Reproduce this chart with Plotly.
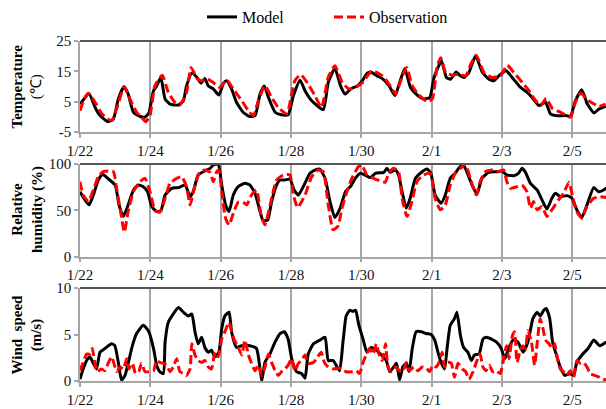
import plotly.graph_objects as go

# ---------------- data (day offset from 1/22) ----------------
date_ticks = [0, 2, 4, 6, 8, 10, 12, 14]
date_labels = ["1/22", "1/24", "1/26", "1/28", "1/30", "2/1", "2/3", "2/5"]

temp_model_day = [
    0, 0.26, 0.43, 0.57, 0.8, 0.95,
    1.09, 1.25, 1.37, 1.52, 1.71, 1.85, 1.96,
    2.09, 2.18, 2.30, 2.42, 2.56, 2.80, 2.94,
    3.03, 3.18, 3.33, 3.44, 3.55, 3.65, 3.79, 3.95,
    4.08, 4.17, 4.31, 4.45, 4.64, 4.83, 4.98,
    5.12, 5.24, 5.36, 5.55, 5.73, 5.92,
    6.07, 6.26, 6.40, 6.59, 6.92,
    7.06, 7.25, 7.41, 7.54, 7.70, 7.89,
    8.03, 8.17, 8.27, 8.45, 8.60, 8.79, 8.96,
    9.12, 9.24, 9.40, 9.59, 9.78, 9.95,
    10.07, 10.28, 10.42, 10.54, 10.70, 10.80, 10.92,
    11.06, 11.25, 11.44, 11.63, 11.77, 11.91,
    12.12, 12.29, 12.53, 12.72, 12.86,
    13.05, 13.24, 13.38, 13.53, 13.81, 13.95,
    14.09, 14.27, 14.43, 14.62, 14.76, 14.95]
temp_model = [
    4.2, 7.5, 3.1, 0.4, -1.6, -0.7,
    5.9, 9.9, 7.5, 1.5, 0.1, -0.1, 1.3,
    8.6, 10.2, 13.0, 5.9, 4.2, 3.9, 5.3,
    10.2, 14.4, 13.0, 11.1, 12.6, 10.2, 9.2, 7.2,
    11.0, 11.9, 9.2, 4.8, 1.5, 0.1, 0.4,
    7.5, 10.2, 6.4, 1.5, 0.7, 0.7,
    7.0, 12.1, 8.6, 5.3, 2.4,
    11.3, 16.0, 10.2, 7.5, 9.2, 10.2,
    11.9, 14.4, 14.8, 13.5, 12.6, 10.2, 7.0,
    12.4, 15.9, 9.7, 7.2, 5.9, 6.4,
    13.0, 18.4, 13.0, 12.4, 14.8, 13.7, 13.0,
    14.6, 20.1, 14.8, 12.4, 11.9, 13.5,
    15.2, 13.0, 9.7, 8.1, 6.4,
    3.7, 4.8, 1.0, 0.4, 0.4, 0.2,
    5.3, 8.9, 4.2, 1.3, 2.6, 3.5]

temp_obs_day = [
    0, 0.14, 0.24, 0.43, 0.62, 0.9,
    1.04, 1.26, 1.42, 1.61, 1.75, 1.87, 1.99,
    2.13, 2.34, 2.51, 2.70, 2.84,
    3.03, 3.16, 3.33, 3.46, 3.60, 3.79, 3.98,
    4.17, 4.36, 4.60, 4.79, 4.93,
    5.07, 5.26, 5.45, 5.64, 5.88,
    6.11, 6.28, 6.49, 6.68, 6.87,
    7.06, 7.25, 7.46, 7.65, 7.84,
    8.03, 8.31, 8.60, 8.79, 8.98,
    9.12, 9.29, 9.45, 9.64, 9.88,
    10.02, 10.16, 10.26, 10.40, 10.59, 10.78, 10.97,
    11.11, 11.27, 11.49, 11.72, 11.96,
    12.15, 12.34, 12.58, 12.77, 12.96,
    13.10, 13.26, 13.43, 13.67, 13.95,
    14.09, 14.24, 14.47, 14.76, 14.95]
temp_obs = [
    2.0, 6.4, 7.8, 4.8, 1.0, -1.3,
    2.6, 10.0, 5.9, 1.5, -0.1, -1.6, 0.4,
    10.2, 13.7, 8.1, 4.8, 3.9,
    8.1, 16.3, 12.6, 11.9, 12.6, 11.3, 9.7,
    12.2, 9.2, 5.3, 2.0, 0.4,
    5.3, 10.2, 6.4, 3.1, 1.0,
    11.9, 13.9, 10.8, 7.0, 3.1,
    13.0, 16.8, 11.3, 9.2, 9.7,
    11.3, 15.2, 13.5, 10.8, 7.5,
    11.9, 16.3, 10.2, 7.2, 5.0,
    5.9, 16.8, 19.5, 14.6, 13.7, 14.1, 13.5,
    17.3, 20.3, 14.6, 13.0, 13.5,
    17.0, 14.6, 11.3, 8.6, 5.3,
    3.7, 6.1, 2.8, 1.5, -0.1,
    4.8, 7.8, 5.3, 3.5, 4.2]

rh_model_day = [
    0, 0.14, 0.26, 0.38, 0.52, 0.64, 0.81,
    1.0, 1.11, 1.23, 1.37, 1.52, 1.66, 1.80, 1.92,
    2.04, 2.18, 2.30, 2.42, 2.61, 2.80, 2.99,
    3.13, 3.22, 3.36, 3.55, 3.70, 3.79, 3.93,
    4.03, 4.14, 4.24, 4.36, 4.50, 4.69, 4.83, 4.98,
    5.12, 5.21, 5.34, 5.45, 5.59, 5.69, 5.83, 5.97,
    6.09, 6.21, 6.35, 6.54, 6.68, 6.82, 6.97,
    7.11, 7.25, 7.40, 7.55, 7.69, 7.83, 7.97,
    8.11, 8.26, 8.40, 8.64, 8.73, 8.82, 8.97,
    9.06, 9.16, 9.28, 9.39, 9.54, 9.73, 9.87, 9.98,
    10.10, 10.27, 10.39, 10.53, 10.67, 10.77, 10.89,
    11.00, 11.15, 11.29, 11.43, 11.62, 11.86,
    12.00, 12.14, 12.33, 12.47, 12.57, 12.66, 12.81,
    13.00, 13.14, 13.28, 13.42, 13.52, 13.66, 13.85, 13.99,
    14.13, 14.27, 14.42, 14.61, 14.75, 14.89, 14.99]
rh_model = [
    70.1, 61.2, 55.8, 66.5, 82.7, 88.8, 83.8,
    77.3, 55.8, 43.2, 55.8, 71.9, 77.3, 75.5, 70.1,
    54.0, 48.6, 49.3, 66.5, 73.7, 74.5, 77.3,
    64.7, 70.1, 88.1, 92.4, 95.3, 98.9, 100,
    77.3, 55.8, 48.6, 66.5, 75.5, 79.1, 77.3, 68.3,
    48.6, 38.5, 39.6, 59.4, 77.3, 82.7, 82.7, 83.8,
    71.9, 66.5, 75.5, 89.9, 93.5, 94.6, 84.5,
    59.4, 42.1, 52.2, 70.1, 75.5, 84.5, 89.9,
    88.1, 85.3, 89.9, 91.0, 95.3, 91.0, 93.5,
    88.1, 70.1, 52.2, 62.9, 84.5, 91.7, 94.6, 89.9,
    66.5, 57.6, 66.5, 84.5, 89.9, 95.3, 100,
    91.7, 77.3, 67.3, 84.5, 91.0, 91.7,
    92.4, 88.1, 87.4, 89.9, 95.3, 91.7, 79.1,
    71.9, 61.2, 51.4, 62.9, 68.3, 64.7, 65.8, 62.9,
    50.4, 42.1, 55.8, 74.5, 70.1, 71.9, 74.5]

rh_obs_day = [
    0, 0.09, 0.24, 0.38, 0.52, 0.66, 0.81, 0.95,
    1.04, 1.17, 1.26, 1.37, 1.52, 1.71, 1.85, 1.99,
    2.13, 2.27, 2.42, 2.56, 2.75, 2.89,
    3.03, 3.13, 3.25, 3.41, 3.55, 3.70, 3.79, 3.89, 3.95,
    4.03, 4.14, 4.24, 4.36, 4.50, 4.64, 4.74, 4.88,
    5.02, 5.15, 5.26, 5.45, 5.59, 5.78, 5.97,
    6.07, 6.19, 6.40, 6.59, 6.78, 6.92,
    7.06, 7.20, 7.34, 7.45, 7.59, 7.73, 7.92,
    8.02, 8.16, 8.35, 8.54, 8.68, 8.78, 8.92,
    9.06, 9.16, 9.30, 9.44, 9.58, 9.77, 9.96,
    10.10, 10.25, 10.39, 10.53, 10.67, 10.82, 10.96,
    11.10, 11.27, 11.38, 11.53, 11.72, 11.91,
    12.05, 12.14, 12.24, 12.43, 12.57, 12.71, 12.81, 12.90,
    13.00, 13.14, 13.28, 13.42, 13.61, 13.75, 13.91,
    14.02, 14.13, 14.27, 14.42, 14.61, 14.80, 14.99]
rh_obs = [
    80.9, 66.5, 59.4, 71.9, 86.3, 91.7, 92.4, 91.7,
    73.7, 45.0, 26.3, 48.6, 70.1, 80.9, 84.5, 70.1,
    50.4, 47.8, 62.9, 79.1, 84.5, 86.3,
    75.5, 55.8, 73.7, 91.7, 93.5, 91.0, 80.9, 91.7, 93.5,
    70.1, 41.4, 34.2, 46.8, 58.6, 58.6, 55.8, 66.5,
    71.9, 45.0, 34.2, 62.9, 82.7, 88.1, 88.1,
    66.5, 52.9, 66.5, 86.3, 93.5, 91.7,
    55.8, 28.8, 33.0, 52.2, 70.1, 84.5, 97.1,
    98.9, 88.1, 84.5, 81.7, 80.2, 89.9, 95.3,
    91.7, 62.9, 43.2, 59.4, 80.9, 88.1, 89.9,
    62.9, 50.4, 55.8, 77.3, 89.9, 95.3, 100,
    84.5, 66.5, 80.9, 91.7, 93.5, 91.7,
    93.5, 80.9, 73.7, 75.5, 77.3, 70.1, 52.2, 59.4,
    50.4, 54.0, 43.2, 50.4, 61.2, 68.3, 80.2,
    62.9, 48.6, 41.4, 54.0, 62.9, 64.7, 63.7]

wind_model_day = [
    0, 0.09, 0.19, 0.28, 0.38, 0.47, 0.57, 0.71, 0.90, 0.99,
    1.09, 1.18, 1.28, 1.37, 1.49, 1.61, 1.80, 1.96,
    2.09, 2.18, 2.27, 2.37, 2.42, 2.51, 2.65, 2.80, 2.94,
    3.08, 3.18, 3.27, 3.36, 3.46, 3.55, 3.65, 3.74, 3.84, 3.95,
    4.03, 4.12, 4.24, 4.31, 4.45, 4.60, 4.83,
    5.02, 5.12, 5.17, 5.26, 5.40, 5.55, 5.69, 5.81, 5.92,
    6.02, 6.16, 6.30, 6.40, 6.49, 6.64, 6.82, 6.97,
    7.06, 7.20, 7.38, 7.48, 7.57, 7.67, 7.76, 7.84, 7.93,
    8.05, 8.16, 8.28, 8.43, 8.57, 8.71, 8.81, 8.92,
    9.00, 9.09, 9.18, 9.28, 9.36, 9.45, 9.56, 9.71, 9.85, 9.99,
    10.09, 10.18, 10.27, 10.37, 10.44, 10.53, 10.65, 10.72, 10.82, 10.91,
    11.03, 11.13, 11.22, 11.35, 11.46, 11.55, 11.70, 11.84, 11.98,
    12.08, 12.17, 12.31, 12.45, 12.60, 12.74, 12.88,
    13.00, 13.09, 13.19, 13.26, 13.36, 13.44, 13.55, 13.66, 13.79, 13.93,
    14.04, 14.13, 14.30, 14.45, 14.61, 14.78, 14.97]
wind_model = [
    0.2, 1.3, 2.2, 2.6, 1.9, 1.3, 3.1, 3.5, 4.0, 3.8,
    2.0, 0.1, 0.6, 1.9, 3.8, 5.1, 6.0, 5.3,
    3.5, 1.7, 1.0, 0.8, 4.2, 6.3, 7.2, 7.9, 7.4,
    7.0, 7.2, 5.3, 4.0, 4.7, 3.6, 3.1, 3.3, 2.6, 3.1,
    5.6, 7.0, 7.4, 5.3, 3.6, 3.8, 3.8,
    3.5, 1.3, 0.0, 2.0, 2.9, 4.2, 5.1, 5.3, 4.5,
    2.4, 1.0, 0.8, 0.3, 2.9, 4.0, 4.4, 4.7,
    2.2, 2.2, 1.1, 4.2, 7.0, 7.6, 7.5, 7.6, 6.0,
    4.5, 3.1, 3.6, 3.3, 2.8, 2.2, 1.0, 1.5,
    1.9, 0.1, 1.5, 1.9, 1.0, 3.5, 5.3, 5.3, 5.1, 5.0,
    4.4, 3.1, 2.0, 1.3, 3.5, 6.0, 6.7, 7.4, 4.9, 3.6,
    3.1, 2.2, 2.8, 2.9, 4.5, 4.7, 4.5, 4.2, 3.5,
    2.4, 3.3, 4.4, 4.2, 3.1, 4.2, 6.7,
    7.4, 7.0, 7.6, 7.8, 6.7, 4.2, 2.8, 1.5, 0.6, 0.8,
    0.6, 2.0, 2.9, 3.5, 4.4, 3.8, 4.2]

wind_obs_day = [
    0, 0.09, 0.19, 0.28, 0.35, 0.43, 0.50, 0.60, 0.71, 0.81, 0.90, 0.98,
    1.04, 1.14, 1.23, 1.33, 1.39, 1.49, 1.58, 1.68, 1.75, 1.85, 1.96,
    2.09, 2.18, 2.27, 2.37, 2.46, 2.56, 2.65, 2.75, 2.84, 2.94,
    3.03, 3.13, 3.18, 3.27, 3.36, 3.46, 3.55, 3.65, 3.74, 3.84, 3.93,
    4.03, 4.12, 4.24, 4.31, 4.39, 4.48, 4.60, 4.69, 4.79, 4.88, 4.98,
    5.07, 5.17, 5.26, 5.36, 5.45, 5.55, 5.64, 5.73, 5.83, 5.92,
    6.02, 6.11, 6.21, 6.30, 6.40, 6.49, 6.64, 6.76, 6.86, 6.95,
    7.06, 7.20, 7.35, 7.43, 7.57, 7.72, 7.86, 7.95,
    8.05, 8.14, 8.24, 8.33, 8.43, 8.50, 8.60, 8.69, 8.76, 8.85, 8.98,
    9.09, 9.18, 9.28, 9.37, 9.49, 9.61, 9.73, 9.85, 9.94,
    10.04, 10.13, 10.21, 10.30, 10.37, 10.46, 10.56, 10.65, 10.75, 10.87, 10.97,
    11.06, 11.18, 11.27, 11.38, 11.46, 11.55, 11.64, 11.74, 11.84, 11.95,
    12.03, 12.13, 12.20, 12.30, 12.36, 12.43, 12.52, 12.60, 12.67, 12.74, 12.84, 12.93,
    13.00, 13.09, 13.17, 13.24, 13.34, 13.43, 13.50, 13.56, 13.66, 13.75, 13.85, 13.94,
    14.04, 14.13, 14.23, 14.32, 14.42, 14.51, 14.64, 14.78, 14.87, 14.97]
wind_obs = [
    1.1, 2.0, 2.9, 2.9, 3.5, 1.7, 1.0, 1.3, 1.1, 2.0, 2.6, 1.7,
    1.0, 1.5, 1.3, 2.4, 1.3, 1.9, 0.8, 1.1, 1.9, 1.0, 1.0,
    1.1, 2.2, 2.0, 1.9, 1.7, 1.0, 1.5, 2.4, 1.0, 0.8,
    0.6, 1.3, 4.0, 2.8, 2.2, 2.0, 2.2, 1.5, 1.3, 3.1, 2.6,
    4.5, 5.3, 6.3, 5.4, 4.4, 3.8, 2.8, 4.4, 2.8, 1.9, 1.1,
    1.7, 0.6, 1.5, 2.9, 2.0, 1.1, 0.6, 1.0, 1.3, 1.7,
    2.4, 1.1, 1.9, 2.2, 2.8, 1.9, 2.0, 2.6, 3.1, 2.0,
    1.5, 1.3, 1.4, 1.3, 1.0, 1.0, 1.1, 0.8,
    2.0, 2.8, 3.5, 2.9, 4.0, 2.9, 2.2, 4.0, 1.5, 1.0, 1.5,
    1.1, 1.0, 2.0, 1.1, 1.5, 1.1, 1.5, 1.4, 1.0,
    1.7, 1.5, 2.0, 3.1, 1.5, 2.0, 1.9, 0.4, 1.9, 1.3, 1.0,
    0.2, 1.0, 2.0, 2.9, 1.5, 1.1, 1.7, 1.0, 1.1, 0.8,
    2.0, 3.8, 2.4, 4.9, 5.3, 2.0, 3.3, 3.8, 3.5, 5.4, 4.2, 1.7,
    4.0, 6.7, 5.6, 4.4, 4.0, 3.5, 4.0, 2.8, 1.3, 1.0, 0.6, 1.1,
    0.4, 2.2, 1.9, 2.0, 1.5, 0.8, 0.6, 0.4, 0.2, 0.1]

temp_ticks = [-5, 5, 15, 25]
temp_tick_labels = ["-5", "5", "15", "25"]
rh_ticks = [0, 50, 100]
wind_ticks = [0, 5, 10]

# ---------------- figure ----------------
W, H = 606, 409
FONT = "Liberation Serif"
MODEL_COLOR = "#000000"
OBS_COLOR = "#ff0000"
GRID = "#a6a6a6"

def px_y(top, bottom):
    return [(H - bottom) / H, (H - top) / H]

x_domain = [80 / W, 1.0]
panels = [
    ("", "", temp_model_day, temp_model, temp_obs_day, temp_obs, [-5, 25], temp_ticks, temp_tick_labels, px_y(41, 132)),
    ("2", "2", rh_model_day, rh_model, rh_obs_day, rh_obs, [0, 100], rh_ticks, [str(v) for v in rh_ticks], px_y(164, 256.5)),
    ("3", "3", wind_model_day, wind_model, wind_obs_day, wind_obs, [0, 10], wind_ticks, [str(v) for v in wind_ticks], px_y(288, 381)),
]

fig = go.Figure()
layout = {}
for i, (xs, ys, md, mv, od, ov, yr, yt, ytl, ydom) in enumerate(panels):
    xa, ya = "x" + xs, "y" + ys
    fig.add_trace(go.Scatter(x=md, y=mv, xaxis=xa, yaxis=ya, mode="lines", name="Model",
                             line=dict(color=MODEL_COLOR, width=3, shape="spline", smoothing=0.5),
                             showlegend=(i == 0)))
    fig.add_trace(go.Scatter(x=od, y=ov, xaxis=xa, yaxis=ya, mode="lines", name="Observation",
                             line=dict(color=OBS_COLOR, width=3, dash="9px,4px", shape="spline", smoothing=0.5),
                             showlegend=(i == 0)))
    layout["xaxis" + xs] = dict(
        domain=x_domain, anchor=ya, range=[0, 14.96], automargin=False,
        tickvals=date_ticks, ticktext=date_labels,
        showgrid=True, gridcolor=GRID, gridwidth=1.5,
        showline=True, linecolor=GRID, linewidth=1.5,
        ticks="outside", ticklen=4, tickcolor=GRID, tickwidth=1.5,
        tickfont=dict(family=FONT, size=15, color="#111"), zeroline=False, fixedrange=True)
    layout["yaxis" + ys] = dict(
        domain=ydom, anchor=xa, range=yr, automargin=False,
        tickvals=yt, ticktext=ytl, showgrid=False,
        showline=True, linecolor=GRID, linewidth=1.5,
        ticks="outside", ticklen=4, tickcolor=GRID, tickwidth=1.5,
        tickfont=dict(family=FONT, size=15, color="#111"), zeroline=False, fixedrange=True)

shapes = []
for ys in ["", "2", "3"]:
    shapes.append(dict(type="line", xref="x" + ys + " domain", yref="y" + ys + " domain",
                       x0=0, x1=1, y0=1, y1=1, line=dict(color="#555555", width=2)))

title_font = dict(family=FONT, size=15, color="#000")
annotations = [
    dict(text="<b>Temperature</b><br>(℃)", x=27 / W, y=(H - 86.5) / H),
    dict(text="<b>Relative</b><br><b>humidity (%)</b>", x=27 / W, y=(H - 210) / H),
    dict(text="<b>Wind  speed</b><br><b>(m/s)</b>", x=27 / W, y=(H - 334.5) / H),
]
for a in annotations:
    a.update(xref="paper", yref="paper", textangle=-90, showarrow=False,
             xanchor="center", yanchor="middle", font=title_font)

fig.update_layout(
    template="none",
    width=W, height=H, margin=dict(l=0, r=0, t=0, b=0, autoexpand=False),
    paper_bgcolor="white", plot_bgcolor="white",
    showlegend=True,
    legend=dict(orientation="h", x=202 / W, xanchor="left", y=1, yanchor="top",
                font=dict(family=FONT, size=16, color="#000"),
                entrywidth=82, entrywidthmode="pixels", bgcolor="rgba(0,0,0,0)"),
    shapes=shapes, annotations=annotations,
    **layout)

fig.write_html("out.html", config={"displayModeBar": False},
               post_script="document.body.style.margin='0';document.body.style.overflow='hidden';")
